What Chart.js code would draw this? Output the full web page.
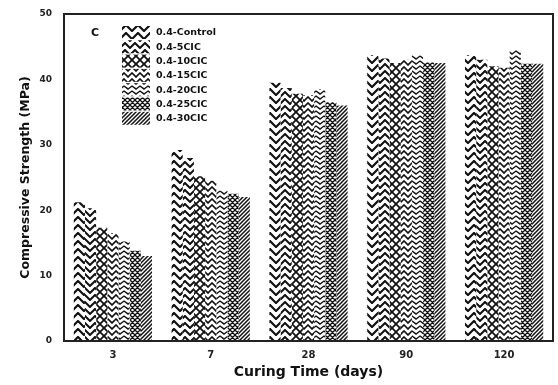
<!DOCTYPE html>
<html>
<head>
<meta charset="utf-8">
<script src="https://cdn.jsdelivr.net/npm/chart.js"></script>
<style>
  html, body { margin: 0; padding: 0; background: #fff; }
  #wrap { width: 558px; height: 385px; }
</style>
</head>
<body>
<div id="wrap"><canvas id="c" width="558" height="385"></canvas></div>
<script>
const curingDays = ['3', '7', '28', '90', '120'];
const mixNames = ['0.4-Control', '0.4-5CIC', '0.4-10CIC', '0.4-15CIC', '0.4-20CIC', '0.4-25CIC', '0.4-30CIC'];
const control = [21.2, 29.2, 39.5, 43.7, 43.7];
const cic5    = [20.3, 28.0, 38.7, 43.2, 43.0];
const cic10   = [17.3, 25.2, 37.8, 42.5, 42.0];
const cic15   = [16.5, 24.5, 37.6, 43.0, 41.8];
const cic20   = [15.2, 23.0, 38.5, 43.7, 44.5];
const cic25   = [13.8, 22.5, 36.5, 42.6, 42.4];
const cic30   = [13.0, 22.0, 36.0, 42.5, 42.4];
const yTicks  = [0, 10, 20, 30, 40, 50];

const FONT = '"DejaVu Sans", Arial';

// hatch fills, drawn on small tiles
function tile(w, h, draw) {
  const c = document.createElement('canvas');
  c.width = w; c.height = h;
  const g = c.getContext('2d');
  g.fillStyle = '#fff';
  g.fillRect(0, 0, w, h);
  g.strokeStyle = '#111';
  g.lineCap = 'square';
  draw(g, w, h);
  return g.createPattern(c, 'repeat');
}
function chevron(w, h, lw) {
  return tile(w, h, (g) => {
    g.lineWidth = lw;
    g.beginPath();
    g.moveTo(0, h - 1); g.lineTo(w / 2, 1); g.lineTo(w, h - 1);
    g.stroke();
  });
}
function cross(s, lw) {
  return tile(s, s, (g) => {
    g.lineWidth = lw;
    g.beginPath();
    g.moveTo(0, 0); g.lineTo(s, s);
    g.moveTo(s, 0); g.lineTo(0, s);
    g.stroke();
  });
}
function diag(s, lw) {
  return tile(s, s, (g) => {
    g.lineWidth = lw;
    g.beginPath();
    g.moveTo(-1, s + 1); g.lineTo(s + 1, -1);
    g.moveTo(-1, 1); g.lineTo(1, -1);
    g.moveTo(s - 1, s + 1); g.lineTo(s + 1, s - 1);
    g.stroke();
  });
}

const fills = [
  chevron(12, 8, 2.2),
  chevron(10, 7, 2.0),
  cross(8, 1.8),
  chevron(8, 6, 1.6),
  chevron(8, 5, 1.4),
  cross(5, 1.3),
  diag(4, 1.5)
];
const series = [control, cic5, cic10, cic15, cic20, cic25, cic30];

const boxPlugin = {
  id: 'box',
  afterDraw(chart) {
    const { ctx, chartArea: a } = chart;
    ctx.save();
    ctx.strokeStyle = '#222';
    ctx.lineWidth = 2;
    ctx.strokeRect(a.left, a.top, a.right - a.left, a.bottom - a.top);
    // panel letter and legend
    ctx.fillStyle = '#111';
    ctx.font = 'bold 11px ' + FONT;
    ctx.textBaseline = 'middle';
    ctx.fillText('C', a.left + 27, a.top + 19);
    ctx.font = 'bold 9.5px ' + FONT;
    chart.data.datasets.forEach((ds, i) => {
      const y = a.top + 12 + i * 14.3;
      ctx.fillStyle = ds.backgroundColor;
      ctx.fillRect(a.left + 58, y, 28, 13);
      ctx.fillStyle = '#111';
      ctx.fillText(ds.label, a.left + 92, y + 7);
    });
    ctx.restore();
  }
};

new Chart(document.getElementById('c'), {
  type: 'bar',
  data: {
    labels: curingDays,
    datasets: series.map((d, i) => ({
      label: mixNames[i],
      data: d,
      backgroundColor: fills[i],
      borderWidth: 0
    }))
  },
  options: {
    responsive: false,
    animation: false,
    layout: { padding: { left: 14, top: 14, right: 5, bottom: 0 } },
    datasets: { bar: { categoryPercentage: 0.8, barPercentage: 1.0 } },
    plugins: { legend: { display: false }, tooltip: { enabled: false } },
    scales: {
      x: {
        grid: { display: false },
        border: { display: false },
        ticks: { color: '#222', font: { family: FONT, size: 10, weight: 'bold' }, padding: 0 },
        title: { display: true, text: 'Curing Time (days)', color: '#111', font: { family: FONT, size: 14, weight: 'bold' }, padding: { top: 4 } },
        afterFit(s) { s.height = 44; }
      },
      y: {
        min: 0, max: 50,
        grid: { display: false },
        border: { display: false },
        afterBuildTicks(s) { s.ticks = yTicks.map(v => ({ value: v })); },
        ticks: { color: '#222', font: { family: FONT, size: 9, weight: 'bold' }, padding: 4 },
        title: { display: true, text: 'Compressive Strength (MPa)', color: '#111', font: { family: FONT, size: 12.5, weight: 'bold' }, padding: { bottom: 6 } },
        afterFit(s) { s.width = 50; }
      }
    }
  },
  plugins: [boxPlugin]
});
</script>
</body>
</html>
